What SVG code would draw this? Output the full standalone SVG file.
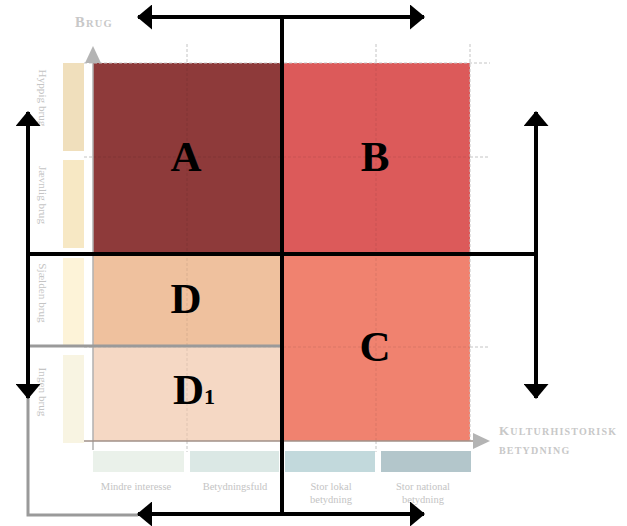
<svg xmlns="http://www.w3.org/2000/svg" width="627" height="526" viewBox="0 0 627 526">
<style>
.lbl{font-family:"Liberation Serif",serif;font-size:10.5px;fill:#c4c4c4;text-anchor:middle}
.side{font-size:11.2px}
.ttl{font-family:"Liberation Serif",serif;font-weight:bold;fill:#c8c8c8;letter-spacing:1.2px}
.big{font-family:"Liberation Serif",serif;font-weight:bold;font-size:43px;fill:#000;text-anchor:middle}
.grid{stroke:#c4c4c4;stroke-width:1;stroke-dasharray:3 2;fill:none}
.gridin{stroke:#000;stroke-opacity:0.09;stroke-width:1;stroke-dasharray:3 2;fill:none}
.blk{stroke:#000;stroke-width:4;fill:none}
.gry{stroke:#9a9a9a;stroke-width:3;fill:none}
</style>
<defs>
<marker id="ah" viewBox="0 0 15 25" refX="14" refY="12.5" markerWidth="15" markerHeight="25" markerUnits="userSpaceOnUse" orient="auto-start-reverse">
<path d="M0,0 L15,12.5 L0,25 Z" fill="#000"/>
</marker>
<marker id="gah" viewBox="0 0 17 16" refX="1" refY="8" markerWidth="17" markerHeight="16" markerUnits="userSpaceOnUse" orient="auto">
<path d="M0,0 L17,8 L0,16 Z" fill="#b4b4b4"/>
</marker>
</defs>
<rect width="627" height="526" fill="#fff"/>

<g id="quadrants">
<rect id="A-rect" x="93" y="63" width="189" height="191" fill="#8e3a3a"/>
<rect id="B-rect" x="282" y="63" width="188" height="191" fill="#dc5a5a"/>
<rect id="D-rect" x="93" y="254" width="189" height="92" fill="#efc19e"/>
<rect id="D1-rect" x="93" y="346" width="189" height="95" fill="#f5d8c4"/>
<rect id="C-rect" x="282" y="254" width="188" height="187" fill="#f0826f"/>
</g>

<g id="side-bars">
<rect x="63" y="63" width="21" height="88" fill="#f0dfbc"/>
<rect x="63" y="160" width="21" height="88" fill="#f7e8c4"/>
<rect x="63" y="258" width="21" height="87" fill="#fdf3d8"/>
<rect x="63" y="355" width="21" height="88" fill="#f8f4e2"/>
<rect x="93" y="451" width="91" height="21" fill="#eaf1ea"/>
<rect x="190" y="451" width="89" height="21" fill="#dbe8e5"/>
<rect x="285" y="451" width="90" height="21" fill="#c2d9dc"/>
<rect x="381" y="451" width="90" height="21" fill="#b3c6cb"/>
</g>

<g id="grid">
<path class="grid" d="M187,44 V63 M376,44 V63 M470,44 V441 M187,441 V452 M376,441 V452 M84,63 H490 M84,157 H93 M470,157 H490 M84,254 H93 M470,254 H490 M84,347 H93 M470,347 H490"/>
<path class="gridin" d="M187,63 V441 M376,63 V441 M93,157 H470 M93,347 H470"/>
</g>

<g id="axes">
<line x1="93" y1="450" x2="93" y2="62" stroke="#b0b0b0" stroke-width="1.5" marker-end="url(#gah)"/>
<line x1="84" y1="441" x2="474" y2="441" stroke="#a09088" stroke-width="1.5" marker-end="url(#gah)"/>
</g>

<g id="labels">
<text class="lbl side" transform="translate(42,98) rotate(90)" dy="3.5">Hyppig brug</text>
<text class="lbl side" transform="translate(42,195) rotate(90)" dy="3.5">Jævnlig brug</text>
<text class="lbl side" transform="translate(42,293) rotate(90)" dy="3.5">Sjælden brug</text>
<text class="lbl side" transform="translate(42,392) rotate(90)" dy="3.5">Ingen brug</text>
<text class="lbl" x="136" y="490">Mindre interesse</text>
<text class="lbl" x="235" y="490">Betydningsfuld</text>
<text class="lbl" x="331" y="490">Stor lokal</text>
<text class="lbl" x="331" y="503">betydning</text>
<text class="lbl" x="423" y="490">Stor national</text>
<text class="lbl" x="423" y="503">betydning</text>
<text class="ttl" x="75" y="27"><tspan font-size="14.5">B</tspan><tspan font-size="10.5">RUG</tspan></text>
<text class="ttl" x="499" y="435" letter-spacing="2.4"><tspan font-size="13">K</tspan><tspan font-size="10">ULTURHISTORISK</tspan></text>
<text class="ttl" x="499" y="454" font-size="10" letter-spacing="1.9">BETYDNING</text>
</g>

<g id="connectors">
<path class="gry" d="M282,346 H28 V515 H138"/>
<line class="blk" x1="282" y1="17" x2="282" y2="513"/>
<line class="blk" x1="138" y1="17" x2="424" y2="17" marker-start="url(#ah)" marker-end="url(#ah)"/>
<line class="blk" x1="138" y1="514" x2="424" y2="514" marker-start="url(#ah)" marker-end="url(#ah)"/>
<line class="blk" x1="28" y1="112" x2="28" y2="398" marker-start="url(#ah)" marker-end="url(#ah)"/>
<line class="blk" x1="536" y1="112" x2="536" y2="398" marker-start="url(#ah)" marker-end="url(#ah)"/>
<line class="blk" x1="28" y1="254" x2="536" y2="254"/>
</g>

<g id="A"><text class="big" x="186" y="171">A</text></g>
<g id="B"><text class="big" x="375" y="171">B</text></g>
<g id="D"><text class="big" x="186" y="313">D</text></g>
<g id="D1"><text class="big" x="194" y="404">D<tspan font-size="22">1</tspan></text></g>
<g id="C"><text class="big" x="375" y="361">C</text></g>
</svg>
